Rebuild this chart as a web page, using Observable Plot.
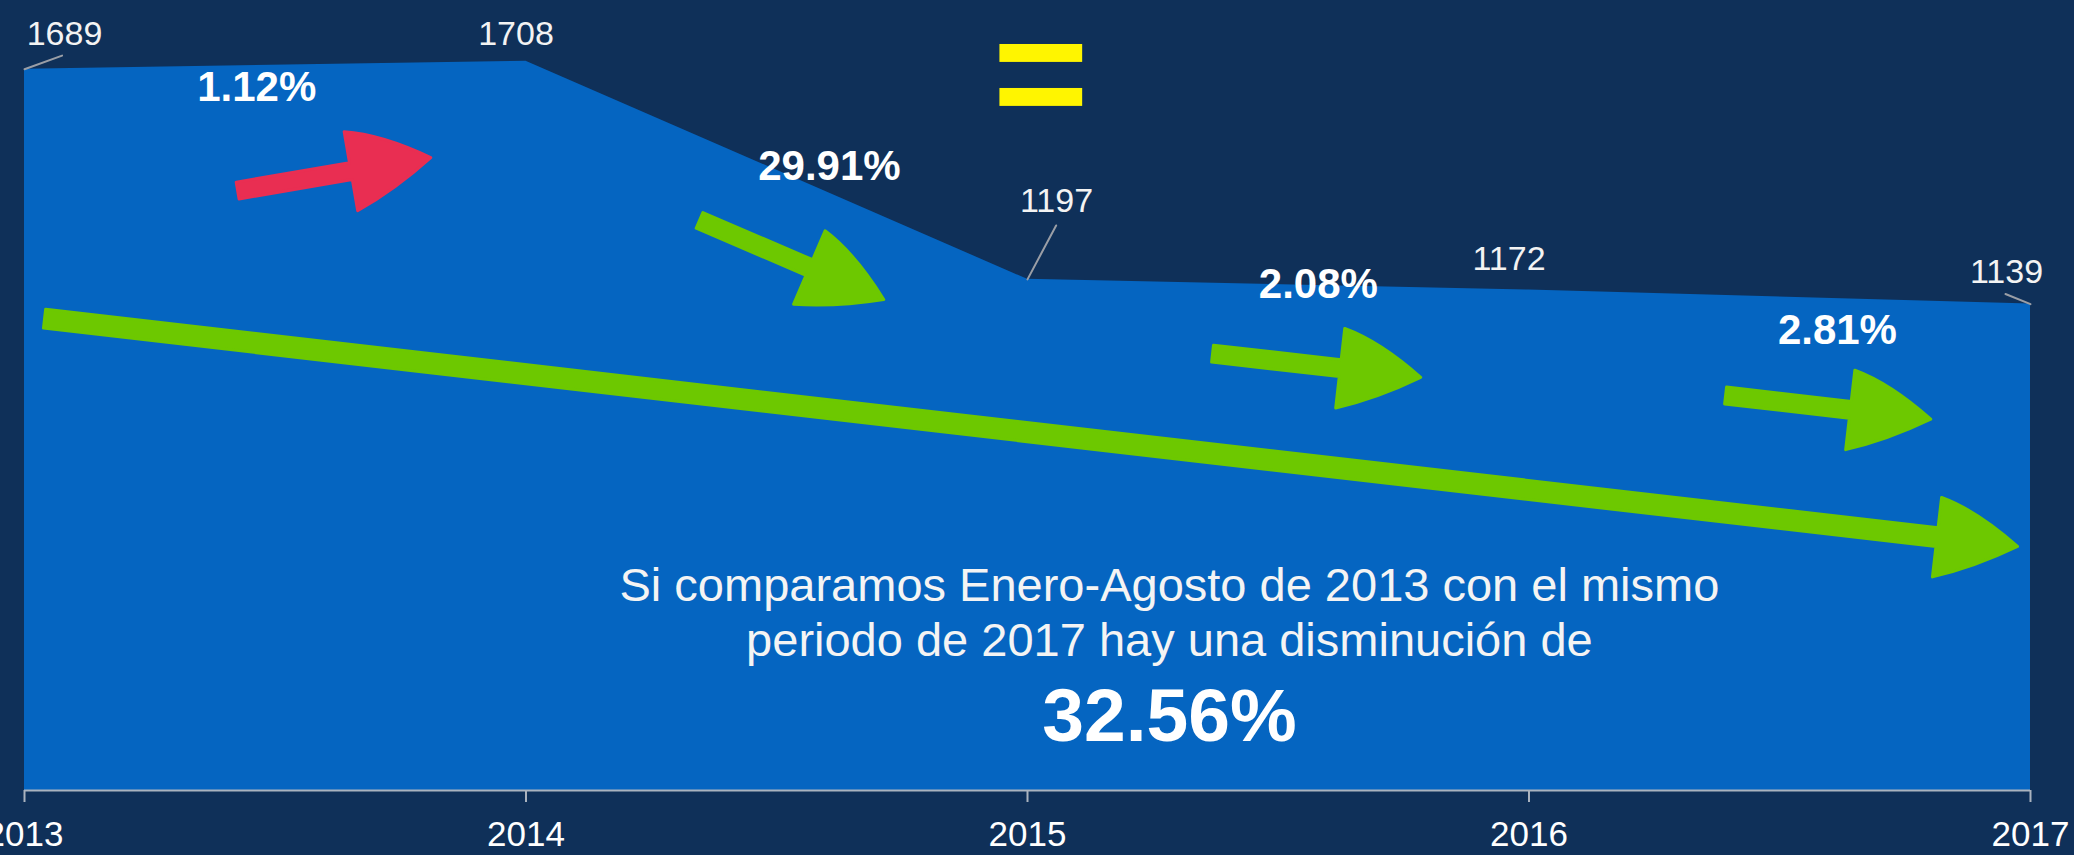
<!DOCTYPE html>
<html>
<head>
<meta charset="utf-8">
<script src="https://cdn.jsdelivr.net/npm/d3@7"></script>
<script src="https://cdn.jsdelivr.net/npm/@observablehq/plot@0.6"></script>
<style>
  html, body { margin: 0; padding: 0; background: #0f3059; }
  #chart svg { display: block; }
</style>
</head>
<body>
<div id="chart"></div>
<script>
// ---- data ----
const years = [2013, 2014, 2015, 2016, 2017];
const values = [1689, 1708, 1197, 1172, 1139];
const changeLabels = ["1.12%", "29.91%", "2.08%", "2.81%"];
const summaryLines = [
  "Si comparamos Enero-Agosto de 2013 con el mismo",
  "periodo de 2017 hay una disminución de"
];
const summaryValue = "32.56%";

const data = years.map((year, i) => ({year, value: values[i]}));

// ---- annotations (data coordinates: year, value) ----
const changeLabelPos = [
  {x: 2013.463, y: 1647}, {x: 2014.605, y: 1460},
  {x: 2015.580, y: 1184}, {x: 2016.615, y: 1078}
];
const arrows = [
  {x1: 2013.425, y1: 1405, x2: 2013.814, y2: 1483, color: "#e92e52", shaft: 8.5},
  {x1: 2014.346, y1: 1335, x2: 2014.717, y2: 1148, color: "#6dc800", shaft: 8.5},
  {x1: 2015.369, y1: 1023, x2: 2015.788, y2: 967,  color: "#6dc800", shaft: 8.5},
  {x1: 2016.392, y1: 925,  x2: 2016.805, y2: 869,  color: "#6dc800", shaft: 8.5},
  {x1: 2013.040, y1: 1105, x2: 2016.978, y2: 571,  color: "#6dc800", shaft: 9.5}
];
const equalsBars = [
  {x1: 2014.945, x2: 2015.110, y1: 1705, y2: 1747},
  {x1: 2014.945, x2: 2015.110, y1: 1602, y2: 1644}
];
// per-point value label layout (pixel offsets) and leader lines
const labelLayout = [
  {dx: 40, dy: -35, leader: {length: 40, rotate: 70}},
  {dx: -10, dy: -27, leader: null},
  {dx: 29, dy: -78, leader: {length: 61, rotate: 28}},
  {dx: -20, dy: -31, leader: null},
  {dx: -24, dy: -32, leader: {length: 27, rotate: -68}}
];

const FONT = "'Liberation Sans', Arial, sans-serif";

const base = {
  width: 2074,
  height: 855,
  marginTop: 0,
  marginRight: 44,
  marginBottom: 65,
  marginLeft: 24,
  style: {background: "#0f3059", fontFamily: FONT, color: "white"},
  x: {domain: [2013, 2017]},
  y: {domain: [0, 1850], axis: null}
};

// probe pass to get scales for pixel arrow geometry
const probe = Plot.plot({...base, x: {...base.x, axis: null}, marks: [Plot.areaY(data, {x: "year", y: "value"})]});
const sx = probe.scale("x"), sy = probe.scale("y");

const blockArrow = (shaft, head, headLen) => ({
  draw(context, l) {
    const b = -(l - headLen);
    context.moveTo(-shaft, 0);
    context.lineTo(-shaft, b);
    context.lineTo(-head, b);
    context.quadraticCurveTo(-head * 0.78, -(l - headLen * 0.55), 0, -l);
    context.quadraticCurveTo(head * 0.64, -(l - headLen * 0.5), head, b);
    context.lineTo(shaft, b);
    context.lineTo(shaft, 0);
    context.closePath();
  }
});
const leaderShape = {
  draw(context, l) { context.moveTo(0, 0); context.lineTo(0, -l); }
};

const arrowMarks = arrows.map(a => {
  const px1 = sx.apply(a.x1), py1 = sy.apply(a.y1);
  const px2 = sx.apply(a.x2), py2 = sy.apply(a.y2);
  const len = Math.hypot(px2 - px1, py2 - py1) - 2;
  const rot = Math.atan2(px2 - px1, -(py2 - py1)) * 180 / Math.PI;
  return Plot.vector([a], {
    x: "x1", y: "y1", length: len, rotate: rot, anchor: "start",
    shape: blockArrow(a.shaft, 40, 81),
    fill: a.color, stroke: a.color, strokeWidth: 3, strokeLinejoin: "round"
  });
});

const valueLabelMarks = data.map((d, i) => Plot.text([d], {
  x: "year", y: "value", text: d => String(d.value),
  dx: labelLayout[i].dx, dy: labelLayout[i].dy,
  fill: "#f3f3f3", fontSize: 34, fontFamily: FONT, textAnchor: "middle"
}));
const leaderMarks = data.map((d, i) => labelLayout[i].leader ? Plot.vector([d], {
  x: "year", y: "value", length: labelLayout[i].leader.length, rotate: labelLayout[i].leader.rotate,
  anchor: "start", shape: leaderShape, stroke: "#9a9ea6", strokeWidth: 2
}) : null).filter(Boolean);

const plot = Plot.plot({
  ...base,
  marks: [
    Plot.areaY(data, {x: "year", y: "value", fill: "#0565c1"}),
    Plot.ruleY([0], {stroke: "#aab3bf", strokeWidth: 2}),
    Plot.axisX({ticks: years, tickFormat: "d", tickSize: 12, tickPadding: 19, fontSize: 35,
      stroke: "#aab3bf", strokeWidth: 2, fill: "white", label: null, fontFamily: FONT}),
    Plot.rect(equalsBars, {x1: "x1", x2: "x2", y1: "y1", y2: "y2", fill: "#fff500"}),
    ...leaderMarks,
    ...valueLabelMarks,
    ...arrowMarks,
    Plot.text(changeLabels, {
      x: (d, i) => changeLabelPos[i].x, y: (d, i) => changeLabelPos[i].y, text: d => d,
      fill: "white", fontSize: 42, fontWeight: "bold", fontFamily: FONT, textAnchor: "middle"
    }),
    Plot.text([summaryLines[0]], {x: () => 2015.283, y: () => 479, text: d => d,
      fill: "#f4f4f4", fontSize: 47, fontFamily: FONT, textAnchor: "middle"}),
    Plot.text([summaryLines[1]], {x: () => 2015.283, y: () => 351, text: d => d,
      fill: "#f4f4f4", fontSize: 47, fontFamily: FONT, textAnchor: "middle"}),
    Plot.text([summaryValue], {x: () => 2015.283, y: () => 173, text: d => d,
      fill: "white", fontSize: 75, fontWeight: "bold", fontFamily: FONT, textAnchor: "middle"})
  ]
});

document.getElementById("chart").appendChild(plot);
</script>
</body>
</html>
